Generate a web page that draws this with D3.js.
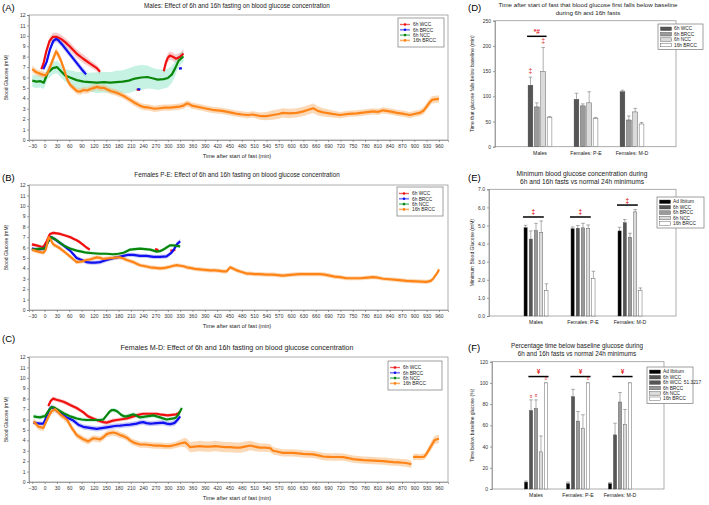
<!DOCTYPE html>
<html>
<head>
<meta charset="utf-8">
<script src="https://cdn.jsdelivr.net/npm/d3@7"></script>
<style>
  body { margin: 0; background: #fff; }
  svg text { font-family: 'Liberation Sans', Arial, sans-serif; }
</style>
</head>
<body>
<svg id="chart" width="709" height="505"></svg>
<script>
// ---- time course data: [minute, mean glucose (mM), sem], null = gap ----
const seriesNames = ["6h WCC", "6h BRCC", "6h NCC", "16h BRCC"];
const timeTicks = d3.range(-30, 961, 30);

const malesWCC = [[-8,6.8,.3],[-3,7.3,.3],[4,8.5,.35],[12,9.5,.35],[20,9.9,.4],[30,9.9,.4],[40,9.7,.4],[50,9.4,.4],[62,8.95,.4],[78,8.3,.4],[94,7.8,.4],[110,7.35,.35],[127,6.9,.3],[135,6.55,.3],
  null,[224,4.85,.1],[232,4.8,.1],null,
  [290,6.6,.3],[295,7.4,.35],[300,7.9,.4],[305,8.1,.4],[312,8.0,.4],[320,7.8,.4],[330,8.0,.4],[338,8.3,.4]];
const malesBRCC = [[-3,6.8,.25],[5,7.5,.3],[13,8.7,.3],[21,9.5,.3],[28,9.7,.3],[33,9.6,.3],[42,9.2,.3],[54,8.6,.3],[66,8.0,.3],[78,7.4,.3],[90,6.8,.3],[101,6.3,.3],
  null,[226,4.9,.1],[233,4.85,.1],null,[327,6.85,.1],[334,6.9,.1]];
const malesNCC = [[-30,5.7,.6],[-20,5.6,.6],[-10,5.65,.6],[-2,5.5,.6],[3,6.0,.6],[8,6.5,.6],[12,6.6,.6],[20,6.9,.6],[30,7.0,.6],[40,6.6,.6],[50,6.2,.6],[62,6.0,.7],[78,5.75,.8],[95,5.6,.9],[110,5.55,.9],[127,5.5,1.0],[145,5.55,1.0],[160,5.5,1.0],[175,5.55,1.1],[190,5.6,1.1],[205,5.7,1.2],[220,5.9,1.2],[235,6.0,1.2],[250,6.05,1.1],[265,5.9,1.0],[275,5.8,1.0],[290,5.85,.9],[300,5.95,.9],[310,6.3,.8],[318,6.9,.7],[326,7.6,.6],[334,7.9,.5],[338,8.0,.5]];
const males16BRCC = [[-30,6.8,.35],[-20,6.5,.3],[-10,6.35,.3],[-3,6.25,.3],[3,6.2,.3],[8,6.5,.3],[15,7.2,.35],[22,7.9,.35],[28,8.5,.35],[33,8.2,.35],[40,7.6,.35],[48,6.7,.35],[55,5.8,.35],[62,5.3,.3],[70,5.0,.3],[79,4.7,.3],[87,4.65,.3],[95,4.8,.3],[103,4.75,.3],[112,4.9,.3],[120,5.0,.3],[128,5.1,.3],[136,5.0,.3],[145,5.0,.3],[153,4.85,.3],[161,4.7,.3],[170,4.6,.3],[177,4.5,.3],[186,4.35,.3],[194,4.2,.3],[202,4.0,.3],[210,3.8,.3],[218,3.6,.3],[227,3.4,.3],[235,3.25,.3],[243,3.15,.3],[255,3.1,.3],[268,3.0,.3],[280,3.05,.3],[292,3.1,.3],[305,3.1,.3],[317,3.15,.3],[328,3.2,.3],[338,3.3,.3],[346,3.5,.3],[352,3.45,.3],[358,3.3,.3],[370,3.2,.3],[383,3.1,.3],[395,3.0,.3],[408,2.9,.3],[420,2.85,.3],[432,2.8,.3],[445,2.7,.3],[457,2.6,.3],[470,2.5,.3],[481,2.45,.3],[495,2.4,.3],[506,2.45,.3],[525,2.3,.35],[540,2.3,.4],[556,2.4,.45],[570,2.5,.45],[580,2.6,.45],[595,2.55,.45],[614,2.6,.45],[630,2.75,.45],[642,2.9,.45],[654,3.05,.45],[665,2.8,.45],[678,2.65,.4],[700,2.5,.35],[719,2.4,.3],[740,2.5,.3],[760,2.55,.3],[780,2.65,.3],[800,2.75,.3],[812,2.7,.3],[824,2.85,.3],[840,2.75,.3],[858,2.6,.3],[875,2.5,.3],[889,2.4,.3],[900,2.5,.3],[913,2.6,.3],[922,2.8,.35],[930,3.2,.35],[937,3.6,.35],[943,3.85,.35],[950,3.9,.35],[960,3.95,.35]];

const pEWCC = [[-31,6.3,.15],[-20,6.2,.15],[-10,6.1,.15],[-3,6.05,.15],[5,6.6,.15],[13,7.3,.15],[21,7.4,.15],[30,7.35,.15],[38,7.3,.15],[46,7.2,.15],[54,7.1,.15],[62,7.0,.15],[70,6.85,.15],[78,6.7,.15],[86,6.5,.15],[94,6.25,.15],[102,6.0,.15],[110,5.8,.15],
  null,[269,5.85,.1],[277,5.75,.1],null,[306,5.7,.1],[312,5.7,.1],[318,5.8,.1]];
const pEBRCC = [[-31,5.9,.2],[-20,5.8,.2],[-10,5.85,.2],[0,5.9,.2],[8,6.5,.2],[15,7.0,.2],[25,6.8,.2],[35,6.5,.2],[46,6.2,.2],[54,5.95,.2],[62,5.7,.2],[70,5.35,.2],[78,5.0,.2],[90,4.8,.2],[102,4.6,.2],[112,4.55,.2],[123,4.55,.2],[135,4.6,.2],[143,4.7,.2],[151,4.8,.2],[160,4.9,.2],[170,5.0,.2],[182,5.1,.2],[192,5.2,.2],[204,5.3,.2],[216,5.3,.2],[232,5.2,.2],[248,5.2,.2],[265,5.1,.2],[281,5.1,.2],[297,5.15,.2],[309,5.5,.2],[316,5.9,.25],[322,6.3,.25],[330,6.6,.25]];
const pENCC = [[-31,5.8,.15],[-20,5.85,.15],[-11,5.9,.15],[1,5.9,.15],[9,6.6,.15],[16,7.0,.15],[25,6.8,.15],[33,6.6,.15],[46,6.2,.15],[54,6.05,.15],[62,5.9,.15],[78,5.7,.15],[90,5.6,.15],[102,5.5,.15],[118,5.45,.15],[135,5.4,.15],[150,5.4,.15],[167,5.35,.15],[180,5.4,.15],[192,5.5,.15],[200,5.65,.15],[208,5.8,.15],[220,5.85,.15],[232,5.9,.15],[245,5.85,.15],[257,5.8,.15],[265,5.7,.15],[273,5.6,.15],[281,5.65,.15],[289,5.8,.15],[297,6.0,.15],[305,6.2,.15],[314,6.2,.15],[322,6.15,.15],[330,6.1,.15]];
const pE16BRCC = [[-31,5.8,.2],[-20,5.65,.2],[-10,5.55,.2],[-3,5.5,.2],[3,5.8,.2],[7,6.5,.2],[10,7.0,.2],[14,6.8,.2],[21,6.3,.2],[30,6.1,.2],[38,5.9,.2],[46,5.65,.2],[54,5.4,.2],[60,5.2,.2],[66,5.0,.2],[72,4.8,.2],[78,4.6,.2],[86,4.65,.2],[94,4.7,.2],[102,4.8,.2],[110,4.85,.2],[118,4.95,.2],[127,5.05,.2],[135,5.0,.2],[143,4.9,.2],[155,4.95,.2],[167,5.0,.2],[176,5.05,.2],[184,5.05,.2],[192,4.95,.2],[200,4.8,.2],[208,4.7,.2],[216,4.6,.2],[224,4.45,.2],[232,4.3,.2],[245,4.2,.2],[257,4.1,.2],[270,4.05,.2],[281,4.0,.2],[293,4.05,.2],[305,4.15,.2],[314,4.25,.2],[322,4.3,.2],[330,4.25,.2],[338,4.2,.2],[346,4.1,.2],[354,4.05,.2],[366,3.95,.2],[378,3.9,.2],[390,3.85,.2],[403,3.8,.2],[415,3.8,.2],[427,3.75,.2],[435,3.7,.2],[443,3.7,.2],[448,3.95,.2],[452,4.1,.2],[460,3.95,.2],[468,3.8,.2],[476,3.7,.2],[492,3.5,.2],[500,3.5,.2],[512,3.45,.2],[524,3.45,.2],[540,3.4,.2],[556,3.4,.2],[568,3.35,.2],[580,3.3,.2],[592,3.35,.2],[605,3.4,.2],[620,3.45,.2],[637,3.45,.2],[650,3.45,.2],[670,3.45,.2],[682,3.4,.2],[694,3.3,.2],[706,3.2,.2],[719,3.15,.2],[735,3.05,.2],[750,3.05,.2],[768,3.05,.2],[785,3.1,.2],[800,3.15,.2],[812,3.1,.2],[824,3.0,.2],[840,2.95,.2],[857,2.9,.2],[870,2.85,.2],[881,2.8,.2],[893,2.78,.2],[906,2.75,.2],[918,2.72,.2],[930,2.7,.2],[940,2.8,.2],[946,3.0,.2],[951,3.3,.2],[954,3.45,.2],[958,3.7,.2],[960,3.9,.2]];

const mDWCC = [[9,7.3,.2],[15,7.8,.2],[21,8.0,.2],[29,7.9,.2],[38,7.8,.2],[46,7.7,.2],[54,7.55,.2],[62,7.4,.2],[70,7.25,.2],[78,7.1,.2],[86,6.9,.2],[94,6.7,.2],[100,6.5,.2],[106,6.3,.2],[118,6.1,.2],[130,5.9,.2],[143,5.75,.2],[151,5.7,.2],[159,5.8,.2],[167,5.9,.2],[176,5.95,.2],[184,6.0,.2],[192,6.05,.2],[200,6.1,.2],[208,6.2,.2],[216,6.3,.2],[228,6.45,.2],[240,6.55,.15],[250,6.55,.15],[260,6.55,.15],[273,6.55,.15],[280,6.5,.15],[290,6.45,.15],[300,6.4,.15],[310,6.45,.15],[320,6.5,.15],[326,6.6,.15],[330,6.8,.15]];
const mDBRCC = [[-27,5.7,.2],[-20,5.65,.2],[-11,5.6,.2],[-3,5.6,.2],[5,6.3,.25],[12,7.0,.25],[17,7.2,.25],[25,7.0,.25],[38,6.6,.25],[46,6.4,.25],[54,6.2,.25],[62,6.05,.25],[70,5.9,.25],[76,5.7,.25],[82,5.5,.25],[88,5.4,.25],[94,5.3,.25],[102,5.25,.25],[110,5.2,.25],[118,5.15,.25],[127,5.1,.25],[135,5.15,.25],[143,5.2,.25],[151,5.25,.25],[159,5.3,.25],[167,5.35,.25],[176,5.4,.25],[184,5.42,.25],[192,5.45,.25],[200,5.48,.25],[208,5.5,.25],[216,5.55,.25],[224,5.6,.25],[232,5.7,.25],[240,5.75,.25],[248,5.65,.25],[257,5.6,.25],[265,5.62,.25],[273,5.65,.25],[281,5.68,.25],[289,5.7,.25],[297,5.6,.25],[305,5.55,.25],[311,5.6,.25],[317,5.7,.3],[322,5.9,.3],[326,6.1,.3],[330,6.3,.3]];
const mDNCC = [[-27,6.3,.2],[-20,6.25,.2],[-11,6.2,.2],[-3,6.3,.2],[1,6.3,.2],[9,6.8,.2],[17,7.2,.2],[23,7.15,.2],[29,7.0,.2],[38,6.8,.2],[46,6.6,.2],[54,6.45,.2],[62,6.3,.2],[70,6.2,.2],[78,6.1,.2],[90,6.0,.2],[102,5.95,.2],[115,5.95,.2],[127,5.95,.2],[135,5.95,.2],[143,6.0,.2],[147,6.2,.2],[151,6.4,.2],[157,6.7,.2],[163,6.9,.2],[170,6.9,.2],[176,6.8,.2],[182,6.6,.2],[188,6.4,.2],[194,6.3,.2],[200,6.3,.2],[208,6.4,.2],[216,6.5,.2],[224,6.35,.2],[232,6.2,.2],[240,6.25,.2],[248,6.3,.2],[257,6.35,.2],[265,6.4,.2],[273,6.3,.2],[281,6.2,.2],[289,6.1,.2],[297,6.0,.2],[305,6.05,.2],[314,6.1,.2],[320,6.2,.2],[326,6.5,.2],[330,6.8,.2],[334,7.1,.2]];
const mD16BRCC = [[-27,5.8,.3],[-20,5.55,.3],[-15,5.3,.3],[-8,5.25,.3],[-3,5.2,.3],[5,5.9,.3],[11,6.4,.3],[17,6.8,.3],[25,7.0,.3],[31,6.8,.3],[38,6.5,.3],[46,6.25,.3],[54,6.0,.3],[60,5.6,.3],[66,5.2,.3],[72,4.85,.3],[78,4.5,.3],[86,4.3,.3],[94,4.1,.3],[100,4.0,.3],[106,3.9,.3],[112,4.05,.3],[118,4.2,.3],[127,4.15,.3],[135,4.1,.3],[143,4.3,.3],[151,4.6,.3],[159,4.7,.3],[167,4.75,.3],[176,4.65,.3],[184,4.5,.3],[192,4.4,.3],[200,4.25,.3],[208,4.0,.3],[216,3.8,.3],[224,3.7,.3],[232,3.6,.3],[245,3.6,.3],[257,3.55,.3],[269,3.5,.3],[281,3.5,.3],[293,3.45,.3],[305,3.45,.3],[318,3.55,.3],[330,3.7,.35],[342,3.8,.45],[348,3.6,.5],[354,3.35,.5],[366,3.4,.5],[378,3.45,.5],[390,3.4,.5],[403,3.4,.5],[415,3.45,.5],[427,3.4,.5],[440,3.35,.5],[452,3.35,.5],[464,3.3,.5],[476,3.3,.5],[488,3.4,.5],[500,3.5,.45],[512,3.4,.45],[524,3.3,.4],[536,3.3,.4],[549,3.25,.4],[556,3.0,.35],[568,2.9,.35],[580,2.8,.35],[592,2.8,.35],[605,2.8,.35],[617,2.75,.35],[629,2.7,.35],[641,2.68,.35],[654,2.65,.35],[666,2.55,.35],[678,2.45,.35],[690,2.42,.35],[702,2.4,.35],[715,2.4,.35],[727,2.38,.35],[739,2.3,.35],[751,2.2,.35],[763,2.15,.35],[776,2.1,.35],[788,2.08,.35],[800,2.06,.35],[812,2.03,.35],[824,2.0,.35],[836,1.95,.35],[849,1.9,.35],[861,1.88,.35],[873,1.85,.35],[883,1.8,.35],[893,1.7,.35],
  null,[897,2.4,.3],[905,2.42,.3],[913,2.4,.3],[920,2.42,.3],[925,2.45,.3],[931,2.8,.3],[937,3.2,.35],[943,3.6,.4],[949,4.0,.4],[955,4.1,.4],[960,4.15,.4]];

// ---- bar chart data ----
const groups = ["Males", "Females: P-E", "Females: M-D"];

const fallSeries = ["6h WCC", "6h BRCC", "6h NCC", "16h BRCC"];
const fallMean = [[122, 79, 149, 58], [94, 81, 87, 56], [109, 53, 69, 45]];
const fallErr = [[16, 8, 48, 2], [12, 4, 22, 2], [3, 8, 7, 3]];

const minSeries = ["Ad libitum", "6h WCC", "6h BRCC", "6h NCC", "16h BRCC"];
const minMean = [[4.88, 4.25, 4.72, 4.6, 1.4], [4.82, 4.85, 4.87, 4.83, 2.07], [4.7, 5.15, 4.35, 5.75, 1.42]];
const minErr = [[0.13, 0.45, 0.4, 0.65, 0.38], [0.1, 0.15, 0.25, 0.2, 0.4], [0.2, 0.18, 0.22, 0.13, 0.13]];

const pctSeries = ["Ad libitum", "6h WCC", "6h BRCC", "6h NCC", "16h BRCC"];
const pctLegend = ["Ad libitum", "6h WCC", "6h WCC: 51.3217", "6h BRCC", "6h NCC", "16h BRCC"];
const pctMean = [[6.5, 74, 76, 35, 100], [5, 87, 64, 57, 100], [5, 51, 82, 61, 100]];
const pctErr = [[1, 10, 8, 15, 0], [1.5, 7, 9, 13, 0], [1, 11, 9, 14, 0]];

// significance brackets: group, first bar, last bar, value, symbol
const fallBrackets = [["Males", 0, 2, 219, "*#"]];
const fallMarks = [["Males", 0, 146, "‡"], ["Males", 2, 205, "‡"]];
const minBrackets = [["Males", 0, 3, 5.47, "‡"], ["Females: P-E", 0, 3, 5.47, "‡"], ["Females: M-D", 0, 3, 6.13, "‡"]];
const pctBrackets = [["Males", 1, 4, 106, "¥"], ["Females: P-E", 1, 4, 106, "¥"], ["Females: M-D", 1, 4, 106, "¥"]];
const pctMarks = [["Males", 1, 86, "¤"], ["Males", 2, 87, "¤"], ["Males", 4, 103, "¤"], ["Females: P-E", 4, 103, "¤"]];

const lineColors = ["#f01010", "#1010f0", "#0a870a", "#ff8417"];
const bandColors = ["rgba(242,150,150,0.5)", "rgba(150,150,240,0.5)", "rgba(140,230,200,0.5)", "rgba(250,180,110,0.5)"];
const greyFills = { "Ad libitum": "#000", "6h WCC": "#555", "6h WCC: 51.3217": "#555", "6h BRCC": "#9a9a9a", "6h NCC": "#dadada", "16h BRCC": "#fff" };

const svg = d3.select("#chart");

function styleAxis(sel) {
    sel.selectAll("path").attr("stroke", "#888").attr("stroke-width", 0.7);
    sel.selectAll("line").attr("stroke", "#666").attr("stroke-width", 0.6);
    sel.selectAll("text").attr("font-size", 5).attr("fill", "#333");
}

function drawTimePanel(p) {
    const g = svg.append("g");
    const x = d3.scaleLinear().domain([-38, 982]).range([29, 448]);
    const y = d3.scaleLinear().domain([0, 12]).range([p.bottom, p.top]);

    g.append("rect").attr("x", 29).attr("y", p.top).attr("width", 419).attr("height", p.bottom - p.top)
        .attr("fill", "none").attr("stroke", "#999").attr("stroke-width", 0.8);

    g.append("g").attr("transform", `translate(29,0)`)
        .call(d3.axisLeft(y).tickValues(d3.range(0, 13)).tickSize(2).tickPadding(1.5)).call(styleAxis);
    g.append("g").attr("transform", `translate(0,${p.bottom})`)
        .call(d3.axisBottom(x).tickValues(timeTicks).tickSize(2).tickPadding(2)).call(styleAxis);

    const area = d3.area().defined(d => d).x(d => x(d[0])).y0(d => y(d[1] - d[2])).y1(d => y(d[1] + d[2]));
    const line = d3.line().defined(d => d).x(d => x(d[0])).y(d => y(d[1]));

    p.data.forEach((s, i) => g.append("path").attr("d", area(s)).attr("fill", bandColors[i]));
    p.data.forEach((s, i) => g.append("path").attr("d", line(s)).attr("fill", "none")
        .attr("stroke", lineColors[i]).attr("stroke-width", 2.2).attr("stroke-linejoin", "round"));

    g.append("text").attr("x", 2).attr("y", p.letterY).attr("font-size", 9.5).text(p.letter);
    g.append("text").attr("x", 237).attr("y", p.titleY).attr("text-anchor", "middle")
        .attr("font-size", p.titleSize).attr("fill", "#222").text(p.title);
    g.append("text").attr("x", 237).attr("y", p.bottom + 18).attr("text-anchor", "middle")
        .attr("font-size", 5.6).attr("fill", "#222").text("Time after start of fast (min)");
    g.append("text").attr("transform", `translate(8,${(p.top + p.bottom) / 2}) rotate(-90)`)
        .attr("text-anchor", "middle").attr("font-size", 5).attr("fill", "#222").text("Blood Glucose (mM)");

    // legend
    const lg = g.append("g").attr("transform", `translate(${p.legend[0]},${p.legend[1]})`);
    lg.append("rect").attr("width", p.legend[2]).attr("height", 29).attr("fill", "#fff")
        .attr("stroke", "#777").attr("stroke-width", 0.7);
    seriesNames.forEach((name, i) => {
        const ry = 6.5 + i * 5.3;
        lg.append("line").attr("x1", 2).attr("x2", 12).attr("y1", ry).attr("y2", ry)
            .attr("stroke", bandColors[i]).attr("stroke-width", 2);
        lg.append("line").attr("x1", 2).attr("x2", 12).attr("y1", ry).attr("y2", ry)
            .attr("stroke", lineColors[i]).attr("stroke-width", 0.6);
        lg.append("circle").attr("cx", 7).attr("cy", ry).attr("r", 1.3).attr("fill", lineColors[i]);
        lg.append("text").attr("x", 15).attr("y", ry + 1.7).attr("font-size", 4.8).attr("fill", "#222").text(name);
    });
}

function drawBarPanel(p) {
    const g = svg.append("g");
    const y = d3.scaleLinear().domain([0, p.max]).range([p.bottom, p.top]);
    const gx = d3.scalePoint().domain(groups).range(p.groupRange);
    const inner = d3.scaleBand().domain(d3.range(p.series.length))
        .range([-p.innerWidth / 2, p.innerWidth / 2]).padding(p.barPad);
    const barX = (gi, si) => gx(groups[gi]) + inner(si);

    g.append("rect").attr("x", p.left).attr("y", p.top).attr("width", p.right - p.left).attr("height", p.bottom - p.top)
        .attr("fill", "none").attr("stroke", "#999").attr("stroke-width", 0.8);
    g.append("g").attr("transform", `translate(${p.left},0)`)
        .call(d3.axisLeft(y).tickValues(d3.range(0, p.max + 0.001, p.step)).tickSize(2).tickPadding(2)).call(styleAxis);

    groups.forEach((grp, gi) => {
        g.append("text").attr("x", gx(grp)).attr("y", p.bottom + 8).attr("text-anchor", "middle")
            .attr("font-size", 5.2).attr("fill", "#222").text(grp);
        p.series.forEach((s, si) => {
            const v = p.mean[gi][si], e = p.err[gi][si];
            const bx = barX(gi, si), bw = inner.bandwidth(), cx = bx + bw / 2;
            g.append("line").attr("x1", cx).attr("x2", cx).attr("y1", y(v)).attr("y2", y(v + e))
                .attr("stroke", "#777").attr("stroke-width", 0.6);
            g.append("line").attr("x1", cx - 1.8).attr("x2", cx + 1.8).attr("y1", y(v + e)).attr("y2", y(v + e))
                .attr("stroke", "#777").attr("stroke-width", 0.6);
            g.append("rect").attr("x", bx).attr("y", y(v)).attr("width", bw).attr("height", y(0) - y(v))
                .attr("fill", greyFills[s]).attr("stroke", "#444").attr("stroke-width", 0.4);
        });
    });

    (p.brackets || []).forEach(([grp, a, b, v, sym]) => {
        const gi = groups.indexOf(grp);
        const x1 = barX(gi, a) - 1, x2 = barX(gi, b) + inner.bandwidth() + 1;
        g.append("line").attr("x1", x1).attr("x2", x2).attr("y1", y(v)).attr("y2", y(v))
            .attr("stroke", "#000").attr("stroke-width", 1.5);
        g.append("text").attr("x", (x1 + x2) / 2).attr("y", y(v) - 2.5).attr("text-anchor", "middle")
            .attr("font-size", 6.5).attr("font-weight", "bold").attr("fill", "#e02020").text(sym);
    });
    (p.marks || []).forEach(([grp, si, v, sym]) => {
        const gi = groups.indexOf(grp);
        g.append("text").attr("x", barX(gi, si) + inner.bandwidth() / 2).attr("y", y(v))
            .attr("text-anchor", "middle").attr("font-size", p.markSize).attr("fill", "#e02020").text(sym);
    });

    g.append("text").attr("x", 468).attr("y", p.letterY).attr("font-size", 9.5).text(p.letter);
    p.title.forEach((t, i) => g.append("text").attr("x", p.titleX).attr("y", p.titleY + i * 7.5)
        .attr("text-anchor", "middle").attr("font-size", p.titleSize).attr("fill", "#222").text(t));
    g.append("text").attr("transform", `translate(474,${(p.top + p.bottom) / 2}) rotate(-90)`)
        .attr("text-anchor", "middle").attr("font-size", 5).attr("fill", "#222").text(p.ylabel);

    const lg = g.append("g").attr("transform", `translate(${p.legend[0]},${p.legend[1]})`);
    lg.append("rect").attr("width", p.legend[2]).attr("height", p.legendItems.length * 5.4 + 4)
        .attr("fill", "#fff").attr("stroke", "#777").attr("stroke-width", 0.7);
    p.legendItems.forEach((name, i) => {
        const ry = 3 + i * 5.4;
        lg.append("rect").attr("x", 2.5).attr("y", ry).attr("width", 11).attr("height", 3.6)
            .attr("fill", greyFills[name]).attr("stroke", "#444").attr("stroke-width", 0.4);
        lg.append("text").attr("x", 16).attr("y", ry + 3.4).attr("font-size", 4.8).attr("fill", "#222").text(name);
    });
}

drawTimePanel({ letter: "(A)", letterY: 11, title: "Males: Effect of 6h and 16h fasting on blood glucose concentration",
    titleY: 8, titleSize: 6.3, top: 15, bottom: 140, legend: [398, 18, 46],
    data: [malesWCC, malesBRCC, malesNCC, males16BRCC] });
drawTimePanel({ letter: "(B)", letterY: 181, title: "Females P-E: Effect of 6h and 16h fasting on blood glucose concentration",
    titleY: 177, titleSize: 6.3, top: 185, bottom: 310, legend: [397, 187, 46],
    data: [pEWCC, pEBRCC, pENCC, pE16BRCC] });
drawTimePanel({ letter: "(C)", letterY: 342, title: "Females M-D: Effect of 6h and 16h fasting on blood glucose concentration",
    titleY: 350, titleSize: 7.1, top: 357, bottom: 482, legend: [388, 361, 54],
    data: [mDWCC, mDBRCC, mDNCC, mD16BRCC] });

drawBarPanel({ letter: "(D)", letterY: 11, title: ["Time after start of fast that blood glucose first falls below baseline", "during 6h and 16h fasts"],
    titleX: 588, titleY: 7, titleSize: 6.2, left: 495, right: 676, top: 20.7, bottom: 146.7, max: 250, step: 50,
    groupRange: [540, 632], innerWidth: 27, barPad: 0.25, series: fallSeries, mean: fallMean, err: fallErr,
    brackets: fallBrackets, marks: fallMarks, markSize: 7, legend: [658, 24, 45], legendItems: fallSeries,
    ylabel: "Time that glucose falls below baseline (min)" });
drawBarPanel({ letter: "(E)", letterY: 181, title: ["Minimum blood glucose concentration during", "6h and 16h fasts vs normal 24h minimums"],
    titleX: 582, titleY: 176, titleSize: 6.6, left: 489, right: 676, top: 189.3, bottom: 316, max: 7, step: 1,
    groupRange: [536, 630], innerWidth: 28, barPad: 0.38, series: minSeries, mean: minMean, err: minErr,
    brackets: minBrackets, markSize: 7, legend: [657, 197, 47], legendItems: minSeries,
    ylabel: "Minimum Blood Glucose (mM)" });
drawBarPanel({ letter: "(F)", letterY: 351, title: ["Percentage time below baseline glucose during", "6h and 16h fasts vs normal 24h minimums"],
    titleX: 577, titleY: 348, titleSize: 6.3, left: 492, right: 664, top: 361.7, bottom: 489, max: 120, step: 20,
    groupRange: [536, 620], innerWidth: 26.5, barPad: 0.34, series: pctSeries, mean: pctMean, err: pctErr,
    brackets: pctBrackets, marks: pctMarks, markSize: 4.5, legend: [647, 367, 46], legendItems: pctLegend,
    ylabel: "Time below baseline glucose (%)" });
</script>
</body>
</html>
